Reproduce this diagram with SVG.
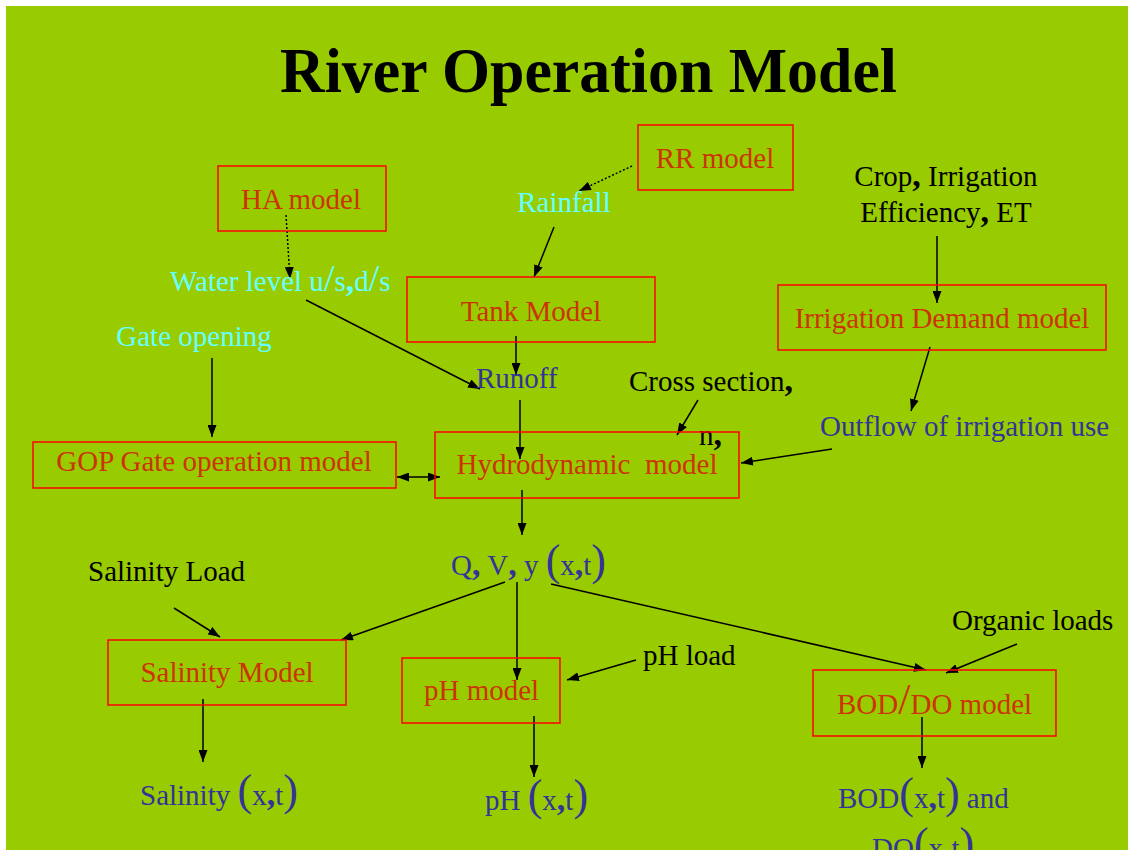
<svg xmlns="http://www.w3.org/2000/svg" width="1128" height="850" viewBox="0 0 1128 850">
<defs>
<marker id="ah" viewBox="0 0 12 9" refX="12" refY="4.5" markerWidth="12" markerHeight="9" markerUnits="userSpaceOnUse" orient="auto-start-reverse">
<path d="M0,0 L12,4.5 L0,9 z" fill="#000"/>
</marker>
<style>
text{font-family:"Liberation Serif","Times New Roman",serif;font-size:29px;}
.box{fill:none;stroke:#FF0000;stroke-width:1.5;}
.red{fill:#CC3300;}
.cyan{fill:#66FFFF;}
.blue{fill:#333399;}
.blk{fill:#000;}
.big{font-size:44px;}
.mid{font-size:38px;}
.cm{font-size:34px;font-weight:bold;}
.c{text-anchor:middle;}
.ln{stroke:#000;stroke-width:1.5;fill:none;marker-end:url(#ah);}
.dot{stroke:#000;stroke-width:1.5;fill:none;stroke-dasharray:2,2;marker-end:url(#ah);}
</style>
</defs>
<rect x="0" y="0" width="1128" height="850" fill="#fff"/>
<rect x="6" y="6" width="1122" height="844" fill="#99CC00"/>
<text x="280" y="92" textLength="617" lengthAdjust="spacingAndGlyphs" style="font-size:64px;font-weight:bold" class="blk">River Operation Model</text>

<g id="connectors">
<line class="dot" x1="632" y1="166" x2="579" y2="191"/>
<line class="dot" x1="286" y1="215" x2="290" y2="279"/>
<line class="ln" x1="554" y1="227" x2="534" y2="277"/>
<line class="ln" x1="937" y1="236" x2="937" y2="303"/>
<line class="ln" x1="306" y1="300" x2="480" y2="389"/>
<line class="ln" x1="516" y1="336" x2="516" y2="375"/>
<line class="ln" x1="212" y1="358" x2="212" y2="437"/>
<line class="ln" x1="397" y1="477" x2="440" y2="477" style="marker-start:url(#ah)"/>
<line class="ln" x1="520" y1="400" x2="520" y2="459"/>
<line class="ln" x1="698" y1="400" x2="677" y2="435"/>
<line class="ln" x1="930" y1="347" x2="911" y2="411"/>
<line class="ln" x1="832" y1="449" x2="741" y2="463"/>
<line class="ln" x1="522" y1="490" x2="522" y2="535"/>
<line class="ln" x1="505" y1="582" x2="341" y2="640"/>
<line class="ln" x1="517" y1="582" x2="517" y2="680"/>
<line class="ln" x1="551" y1="584" x2="926" y2="670"/>
<line class="ln" x1="174" y1="608" x2="220" y2="637"/>
<line class="ln" x1="203" y1="699" x2="203" y2="762"/>
<line class="ln" x1="636" y1="660" x2="567" y2="680"/>
<line class="ln" x1="534" y1="716" x2="534" y2="777"/>
<line class="ln" x1="1017" y1="644" x2="946" y2="673"/>
<line class="ln" x1="922" y1="717" x2="922" y2="768"/>
</g>

<g id="ha"><rect class="box" x="218" y="166" width="168" height="65"/><text class="red c" x="301" y="209">HA model</text></g>
<g id="rr"><rect class="box" x="638" y="125" width="155" height="65"/><text class="red c" x="715" y="168">RR model</text></g>
<g id="rainfall"><text class="cyan c" x="564" y="212">Rainfall</text></g>
<g id="waterlevel"><text class="cyan" x="170" y="291">Water level u<tspan class="mid">/</tspan>s<tspan class="cm">,</tspan>d<tspan class="mid">/</tspan>s</text></g>
<g id="tank"><rect class="box" x="407" y="277" width="248" height="65"/><text class="red c" x="531" y="321">Tank Model</text></g>
<g id="crop"><text class="blk c" x="946" y="186">Crop<tspan class="cm">,</tspan> Irrigation</text><text class="blk c" x="946" y="222">Efficiency<tspan class="cm">,</tspan>  ET</text></g>
<g id="irrig"><rect class="box" x="778" y="285" width="328" height="65"/><text class="red c" x="942" y="328">Irrigation Demand model</text></g>
<g id="gate"><text class="cyan c" x="194" y="346">Gate opening</text></g>
<g id="gop"><rect class="box" x="33" y="442" width="363" height="46"/><text class="red c" x="214" y="471">GOP Gate operation model</text></g>
<g id="runoff"><text class="blue" x="476" y="388">Runoff</text></g>
<g id="cross"><text class="blk" x="629" y="391">Cross section<tspan class="cm">,</tspan></text><text class="blk" x="699" y="445">n<tspan class="cm">,</tspan></text></g>
<g id="outflow"><text class="blue" x="820" y="436">Outflow of irrigation use</text></g>
<g id="hydro"><rect class="box" x="435" y="432" width="304" height="66"/><text class="red c" x="587" y="474" xml:space="preserve">Hydrodynamic  model</text></g>
<g id="qvy"><text class="blue" x="451" y="575">Q<tspan class="cm">,</tspan> V<tspan class="cm">,</tspan> y <tspan class="big">(</tspan>x<tspan class="cm">,</tspan>t<tspan class="big">)</tspan></text></g>
<g id="salload"><text class="blk" x="88" y="581">Salinity Load</text></g>
<g id="salmodel"><rect class="box" x="108" y="640" width="238" height="65"/><text class="red c" x="227" y="682">Salinity Model</text></g>
<g id="salout"><text class="blue" x="140" y="805">Salinity <tspan class="big">(</tspan>x<tspan class="cm">,</tspan>t<tspan class="big">)</tspan></text></g>
<g id="phmodel"><rect class="box" x="402" y="658" width="158" height="65"/><text class="red" x="424" y="700">pH model</text></g>
<g id="phload"><text class="blk" x="643" y="665">pH load</text></g>
<g id="phout"><text class="blue" x="485" y="810">pH <tspan class="big">(</tspan>x<tspan class="cm">,</tspan>t<tspan class="big">)</tspan></text></g>
<g id="organic"><text class="blk" x="952" y="630">Organic loads</text></g>
<g id="bod"><rect class="box" x="813" y="670" width="243" height="66"/><text class="red" x="837" y="714">BOD<tspan class="big">/</tspan>DO model</text></g>
<g id="bodout"><text class="blue" x="838" y="808">BOD<tspan class="big">(</tspan>x<tspan class="cm">,</tspan>t<tspan class="big">)</tspan> and</text><text class="blue" x="872" y="858">DO<tspan class="big">(</tspan>x<tspan class="cm">,</tspan>t<tspan class="big">)</tspan></text></g>
</svg>
